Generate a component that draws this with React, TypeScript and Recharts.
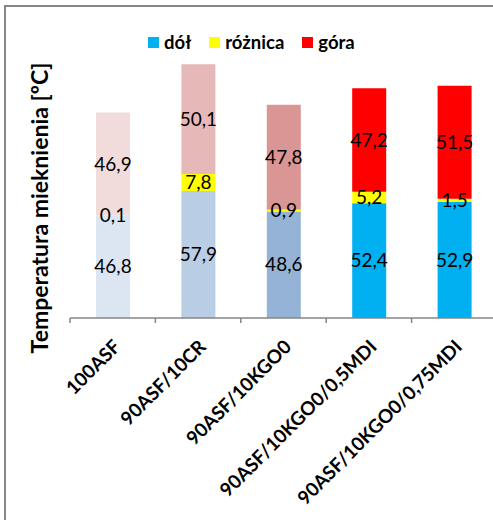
import { BarChart, Bar, XAxis, YAxis, Cell, LabelList } from 'recharts';

const categories = ['100ASF', '90ASF/10CR', '90ASF/10KGO0', '90ASF/10KGO0/0,5MDI', '90ASF/10KGO0/0,75MDI'];
const dol = [46.8, 57.9, 48.6, 52.4, 52.9];
const roznica = [0.1, 7.8, 0.9, 5.2, 1.5];
const gora = [46.9, 50.1, 47.8, 47.2, 51.5];

// per-bar shades (Excel point colours)
const dolColors = ['#dce6f2', '#b9cde5', '#95b3d7', '#00b0f0', '#00b0f0'];
const goraColors = ['#f2dcdb', '#e6b9b8', '#d99694', '#ff0000', '#ff0000'];

const series = [
  { key: 'dol', name: 'dół', color: '#00b0f0' },
  { key: 'roznica', name: 'różnica', color: '#ffff00' },
  { key: 'gora', name: 'góra', color: '#ff0000' },
];

const FONT = 'Lato, Calibri, "Open Sans", sans-serif';
const W = 520;
const H = 520;
const M = { top: 44, right: 23, bottom: 0, left: 0 };
const YW = 70;
const BAND = (W - M.left - M.right - YW) / categories.length;

const data = categories.map((c, i) => ({
  name: c,
  dol: dol[i],
  roznica: roznica[i],
  gora: gora[i],
}));

const fmt = (v: any) => Number(v).toFixed(1).replace('.', ',');

const XTick = (props: any) => {
  const { x, y, payload, index } = props;
  const tx = x + 9;
  const ty = y + 30;
  return (
    <g>
      <line x1={x - BAND / 2} y1={y} x2={x - BAND / 2} y2={y + 5} stroke="#868686" strokeWidth={1.5} />
      {index === categories.length - 1 && (
        <line x1={x + BAND / 2} y1={y} x2={x + BAND / 2} y2={y + 5} stroke="#868686" strokeWidth={1.5} />
      )}
      <text
        x={tx}
        y={ty}
        transform={`rotate(-45, ${tx}, ${ty})`}
        textAnchor="end"
        fontFamily={FONT}
        fontWeight="bold"
        fontSize={19}
        fill="#000"
      >
        {payload.value}
      </text>
    </g>
  );
};

export default function App() {
  return (
    <div style={{ position: 'absolute', left: 0, top: 0, width: 493, height: 520, overflow: 'hidden', background: '#fff' }}>
      <div
        style={{
          position: 'absolute', left: 4, top: 5, width: 600, height: 600,
          borderTop: '2px solid #878787', borderLeft: '2px solid #878787',
        }}
      />
      <div
        style={{
          position: 'absolute', left: 148, top: 31, display: 'flex', alignItems: 'center',
          fontFamily: FONT, fontWeight: 'bold', fontSize: 18.5, color: '#000', gap: 18,
        }}
      >
        {series.map((s) => (
          <div key={s.key} style={{ display: 'flex', alignItems: 'center' }}>
            <span style={{ width: 11, height: 11, background: s.color, marginRight: 5, display: 'inline-block' }} />
            <span>{s.name}</span>
          </div>
        ))}
      </div>
      <div style={{ position: 'absolute', left: 0, top: 0 }}>
        <BarChart width={W} height={H} data={data} margin={M} barSize={34}>
          <XAxis
            dataKey="name"
            interval={0}
            height={202}
            tickSize={0}
            tickMargin={0}
            axisLine={{ stroke: '#868686', strokeWidth: 1.5 }}
            tick={<XTick />}
          />
          <YAxis
            width={YW}
            domain={[0, 125]}
            tick={false}
            tickLine={false}
            axisLine={false}
            label={{
              value: 'Temperatura mieknienia [ºC]',
              angle: -90,
              position: 'center',
              dx: 5,
              dy: 27,
              style: { fontFamily: FONT, fontWeight: 'bold', fontSize: 23, fill: '#000' },
            }}
          />
          <Bar dataKey="dol" name="dół" stackId="a" fill="#00b0f0" isAnimationActive={false}>
            {data.map((d, i) => (
              <Cell key={i} fill={dolColors[i]} />
            ))}
            <LabelList dataKey="dol" position="center" formatter={fmt} fill="#000" fontSize={19} fontFamily={FONT} />
          </Bar>
          <Bar dataKey="roznica" name="różnica" stackId="a" fill="#ffff00" isAnimationActive={false}>
            <LabelList dataKey="roznica" position="center" formatter={fmt} fill="#000" fontSize={19} fontFamily={FONT} />
          </Bar>
          <Bar dataKey="gora" name="góra" stackId="a" fill="#ff0000" isAnimationActive={false}>
            {data.map((d, i) => (
              <Cell key={i} fill={goraColors[i]} />
            ))}
            <LabelList dataKey="gora" position="center" formatter={fmt} fill="#000" fontSize={19} fontFamily={FONT} />
          </Bar>
        </BarChart>
      </div>
    </div>
  );
}
